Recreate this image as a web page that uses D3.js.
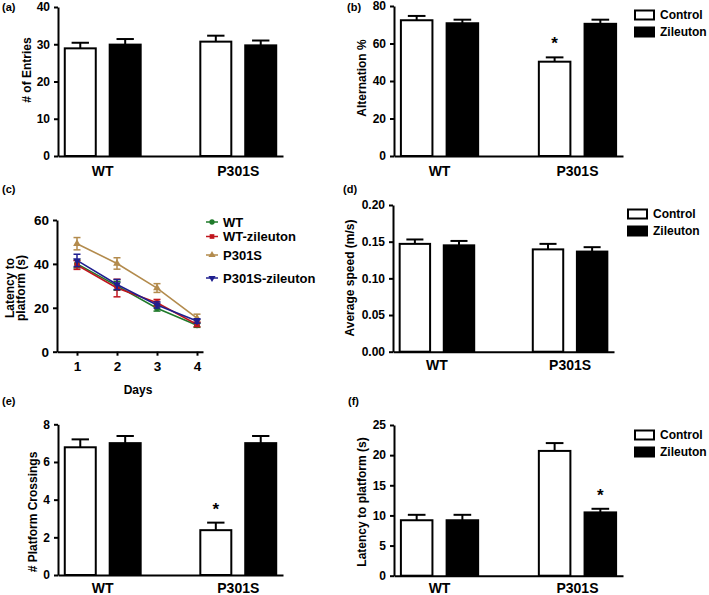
<!DOCTYPE html>
<html>
<head>
<meta charset="utf-8">
<script src="https://cdn.jsdelivr.net/npm/d3@7"></script>
<style>
  body { margin: 0; background: #fff; }
  svg { display: block; font-family: "Liberation Sans", Arial, sans-serif; font-weight: bold; }
</style>
</head>
<body>
<svg id="chart" width="709" height="595"></svg>
<script>
// ---------- DATA ----------
const groups = ["WT", "P301S"];
const series = ["Control", "Zileuton"];

// (a) # of Entries
const entriesControl = [28.9, 30.7];
const entriesControlErr = [1.5, 1.6];
const entriesZileuton = [29.9, 29.7];
const entriesZileutonErr = [1.5, 1.3];
const entriesTicks = [0, 10, 20, 30, 40];

// (b) Alternation %
const altControl = [72.4, 50.3];
const altControlErr = [2.3, 2.3];
const altZileuton = [70.8, 70.5];
const altZileutonErr = [1.9, 2.2];
const altTicks = [0, 20, 40, 60, 80];

// (c) Latency to platform over days
const days = [1, 2, 3, 4];
const lineSeries = ["WT", "WT-zileuton", "P301S", "P301S-zileuton"];
const latWT = [40.0, 30.0, 19.8, 12.0];
const latWTErr = [1.8, 2.0, 1.3, 0.9];
const latWTZil = [39.5, 29.0, 22.3, 12.4];
const latWTZilErr = [2.0, 4.0, 1.5, 1.0];
const latP301S = [49.2, 40.2, 29.0, 15.3];
const latP301SErr = [2.8, 2.6, 2.0, 1.8];
const latP301SZil = [41.6, 30.6, 21.3, 14.0];
const latP301SZilErr = [2.8, 2.3, 1.4, 1.0];
const latTicks = [0, 20, 40, 60];

// (d) Average speed (m/s)
const speedControl = [0.147, 0.1395];
const speedControlErr = [0.006, 0.0075];
const speedZileuton = [0.145, 0.1365];
const speedZileutonErr = [0.006, 0.006];
const speedTicks = [0, 0.05, 0.10, 0.15, 0.20];

// (e) # Platform Crossings
const crossControl = [6.78, 2.38];
const crossControlErr = [0.42, 0.40];
const crossZileuton = [7.0, 7.0];
const crossZileutonErr = [0.38, 0.38];
const crossTicks = [0, 2, 4, 6, 8];

// (f) Latency to platform (s)
const probeControl = [9.2, 20.7];
const probeControlErr = [0.9, 1.3];
const probeZileuton = [9.2, 10.5];
const probeZileutonErr = [0.9, 0.6];
const probeTicks = [0, 5, 10, 15, 20, 25];

// ---------- DRAWING ----------
const svg = d3.select("#chart");

function barPanel(cfg) {
  const g = svg.append("g");
  const y = d3.scaleLinear().domain([0, cfg.max]).range([cfg.y1, cfg.y0]);
  const gx = d3.scaleBand().domain(groups).range([cfg.x0, cfg.x1]).paddingInner(0.44).paddingOuter(0.05);
  const sx = d3.scaleBand().domain(series).range([0, gx.bandwidth()]).paddingInner(0.31).paddingOuter(0);

  const rows = [];
  groups.forEach((grp, i) => {
    rows.push({grp, s: "Control", v: cfg.ctrl[i], e: cfg.ctrlErr[i]});
    rows.push({grp, s: "Zileuton", v: cfg.zil[i], e: cfg.zilErr[i]});
  });

  // error bars (upper only)
  const eb = g.selectAll(".eb").data(rows).enter().append("g");
  eb.append("line")
    .attr("x1", d => gx(d.grp) + sx(d.s) + sx.bandwidth() / 2)
    .attr("x2", d => gx(d.grp) + sx(d.s) + sx.bandwidth() / 2)
    .attr("y1", d => y(d.v)).attr("y2", d => y(d.v + d.e))
    .attr("stroke", "#000").attr("stroke-width", 2);
  eb.append("line")
    .attr("x1", d => gx(d.grp) + sx(d.s) + sx.bandwidth() * 0.22)
    .attr("x2", d => gx(d.grp) + sx(d.s) + sx.bandwidth() * 0.78)
    .attr("y1", d => y(d.v + d.e)).attr("y2", d => y(d.v + d.e))
    .attr("stroke", "#000").attr("stroke-width", 2);

  g.selectAll(".bar").data(rows).enter().append("rect")
    .attr("x", d => gx(d.grp) + sx(d.s))
    .attr("y", d => y(d.v))
    .attr("width", sx.bandwidth())
    .attr("height", d => y(0) - y(d.v))
    .attr("fill", d => d.s === "Control" ? "#fff" : "#000")
    .attr("stroke", "#000").attr("stroke-width", 2);

  // axes
  const ya = g.append("g").attr("transform", `translate(${cfg.x0},0)`)
    .call(d3.axisLeft(y).tickValues(cfg.ticks).tickFormat(cfg.fmt).tickSize(4).tickSizeOuter(0).tickPadding(4));
  ya.select(".domain").attr("stroke-width", 2);
  ya.selectAll(".tick line").attr("stroke-width", 2);
  ya.selectAll("text").attr("font-size", cfg.tickFont || 12).attr("font-weight", "bold").attr("fill", "#000");

  const xa = g.append("g").attr("transform", `translate(0,${cfg.y1})`)
    .call(d3.axisBottom(gx).tickSize(0).tickSizeOuter(0).tickPadding(cfg.labPad || 10));
  xa.select(".domain").attr("stroke-width", 2);
  xa.selectAll("text").attr("font-size", 14).attr("font-weight", "bold").attr("fill", "#000");
  g.selectAll(".domain").attr("fill", "none");

  // y label
  g.append("text")
    .attr("transform", `translate(${cfg.lx},${cfg.ly}) rotate(-90)`)
    .attr("text-anchor", "middle").attr("dominant-baseline", "central")
    .attr("font-size", 12).text(cfg.label);

  // stars
  (cfg.stars || []).forEach(st => {
    const d = rows.find(r => r.grp === st.grp && r.s === st.s);
    g.append("text")
      .attr("x", gx(st.grp) + sx(st.s) + sx.bandwidth() / 2)
      .attr("y", y(d.v + d.e) - 8)
      .attr("text-anchor", "middle")
      .attr("font-size", 17).text("*");
  });

  // legend
  if (cfg.legend) {
    series.forEach((s, i) => {
      const ly = cfg.legend.y + i * cfg.legend.dy;
      g.append("rect").attr("x", cfg.legend.x).attr("y", ly - 4.5).attr("width", 19).attr("height", 9)
        .attr("fill", s === "Control" ? "#fff" : "#000").attr("stroke", "#000").attr("stroke-width", 2);
      g.append("text").attr("x", cfg.legend.x + 25).attr("y", ly).attr("dominant-baseline", "central")
        .attr("font-size", 12).text(s);
    });
  }
}

function panelLabel(t, x, y) {
  svg.append("text").attr("x", x).attr("y", y).attr("dominant-baseline", "central")
    .attr("font-size", 11).text(t);
}

const fmtInt = d3.format("d");

barPanel({x0: 58, x1: 283, y0: 7, y1: 156, max: 40, ticks: entriesTicks, fmt: fmtInt,
  ctrl: entriesControl, ctrlErr: entriesControlErr, zil: entriesZileuton, zilErr: entriesZileutonErr,
  label: "# of Entries", lx: 27, ly: 70});

barPanel({x0: 394, x1: 623, y0: 6, y1: 156, max: 80, ticks: altTicks, fmt: fmtInt,
  ctrl: altControl, ctrlErr: altControlErr, zil: altZileuton, zilErr: altZileutonErr,
  label: "Alternation %", lx: 362, ly: 78,
  stars: [{grp: "P301S", s: "Control"}],
  legend: {x: 635, y: 15, dy: 17}});

barPanel({x0: 393, x1: 614, y0: 205, y1: 351.7, max: 0.2, ticks: speedTicks, fmt: d3.format(".2f"),
  ctrl: speedControl, ctrlErr: speedControlErr, zil: speedZileuton, zilErr: speedZileutonErr,
  label: "Average speed (m/s)", lx: 350, ly: 278, labPad: 8,
  legend: {x: 628, y: 214, dy: 17}});

barPanel({x0: 58, x1: 283, y0: 424.3, y1: 575, max: 8, ticks: crossTicks, fmt: fmtInt,
  ctrl: crossControl, ctrlErr: crossControlErr, zil: crossZileuton, zilErr: crossZileutonErr,
  label: "# Platform Crossings", lx: 33, ly: 512, labPad: 8,
  stars: [{grp: "P301S", s: "Control"}]});

barPanel({x0: 394, x1: 623, y0: 425, y1: 575.7, max: 25, ticks: probeTicks, fmt: fmtInt,
  ctrl: probeControl, ctrlErr: probeControlErr, zil: probeZileuton, zilErr: probeZileutonErr,
  label: "Latency to platform (s)", lx: 362, ly: 502, labPad: 7,
  stars: [{grp: "P301S", s: "Zileuton"}],
  legend: {x: 635, y: 435, dy: 17}});

// ---------- (c) line chart ----------
(function () {
  const g = svg.append("g");
  const x = d3.scaleLinear().domain([0.5, 4.15]).range([57, 203]);
  const y = d3.scaleLinear().domain([0, 60]).range([351.7, 220]);
  const colors = ["#1f7a2a", "#c0161e", "#b38b4d", "#1f1f8f"];
  const means = [latWT, latWTZil, latP301S, latP301SZil];
  const errs = [latWTErr, latWTZilErr, latP301SErr, latP301SZilErr];
  const symbols = [d3.symbolCircle, d3.symbolSquare, d3.symbolTriangle, d3.symbolTriangle];
  const rot = [0, 0, 0, 180];

  const ya = g.append("g").attr("transform", "translate(57,0)")
    .call(d3.axisLeft(y).tickValues(latTicks).tickFormat(fmtInt).tickSize(4).tickSizeOuter(0).tickPadding(4));
  const xa = g.append("g").attr("transform", "translate(0,351.7)")
    .call(d3.axisBottom(x).tickValues(days).tickFormat(fmtInt).tickSize(4).tickSizeOuter(0).tickPadding(6));
  [ya, xa].forEach(a => {
    a.select(".domain").attr("stroke-width", 2).attr("fill", "none");
    a.selectAll(".tick line").attr("stroke-width", 2);
    a.selectAll("text").attr("font-size", 13.5).attr("font-weight", "bold").attr("fill", "#000");
  });

  const line = d3.line().x((d, i) => x(days[i])).y(d => y(d));
  [2, 0, 1, 3].forEach(k => {
    const c = colors[k];
    g.append("path").datum(means[k]).attr("d", line).attr("fill", "none")
      .attr("stroke", c).attr("stroke-width", 1.6);
    means[k].forEach((m, i) => {
      const cx = x(days[i]);
      const e = errs[k][i];
      g.append("line").attr("x1", cx).attr("x2", cx).attr("y1", y(m - e)).attr("y2", y(m + e))
        .attr("stroke", c).attr("stroke-width", 1.5);
      [m - e, m + e].forEach(v => g.append("line").attr("x1", cx - 3.5).attr("x2", cx + 3.5)
        .attr("y1", y(v)).attr("y2", y(v)).attr("stroke", c).attr("stroke-width", 1.5));
      g.append("path").attr("d", d3.symbol().type(symbols[k]).size(26)())
        .attr("transform", `translate(${cx},${y(m)}) rotate(${rot[k]})`).attr("fill", c);
    });
  });

  // legend
  const legY = [222, 236.5, 255, 278];
  lineSeries.forEach((s, k) => {
    g.append("line").attr("x1", 206).attr("x2", 218).attr("y1", legY[k]).attr("y2", legY[k])
      .attr("stroke", colors[k]).attr("stroke-width", 1.5);
    g.append("path").attr("d", d3.symbol().type(symbols[k]).size(22)())
      .attr("transform", `translate(212,${legY[k]}) rotate(${rot[k]})`).attr("fill", colors[k]);
    g.append("text").attr("x", 223).attr("y", legY[k]).attr("dominant-baseline", "central")
      .attr("font-size", 13).text(s);
  });

  g.append("text").attr("x", 138).attr("y", 390).attr("text-anchor", "middle")
    .attr("dominant-baseline", "central").attr("font-size", 12).text("Days");
  g.append("text").attr("transform", "translate(10,288) rotate(-90)").attr("text-anchor", "middle")
    .attr("dominant-baseline", "central").attr("font-size", 12).text("Latency to");
  g.append("text").attr("transform", "translate(21,288) rotate(-90)").attr("text-anchor", "middle")
    .attr("dominant-baseline", "central").attr("font-size", 12).text("platform (s)");
})();

panelLabel("(a)", 2, 7);
panelLabel("(b)", 347, 7);
panelLabel("(c)", 2, 189);
panelLabel("(d)", 343, 189);
panelLabel("(e)", 2, 401);
panelLabel("(f)", 348, 401);
</script>
</body>
</html>
